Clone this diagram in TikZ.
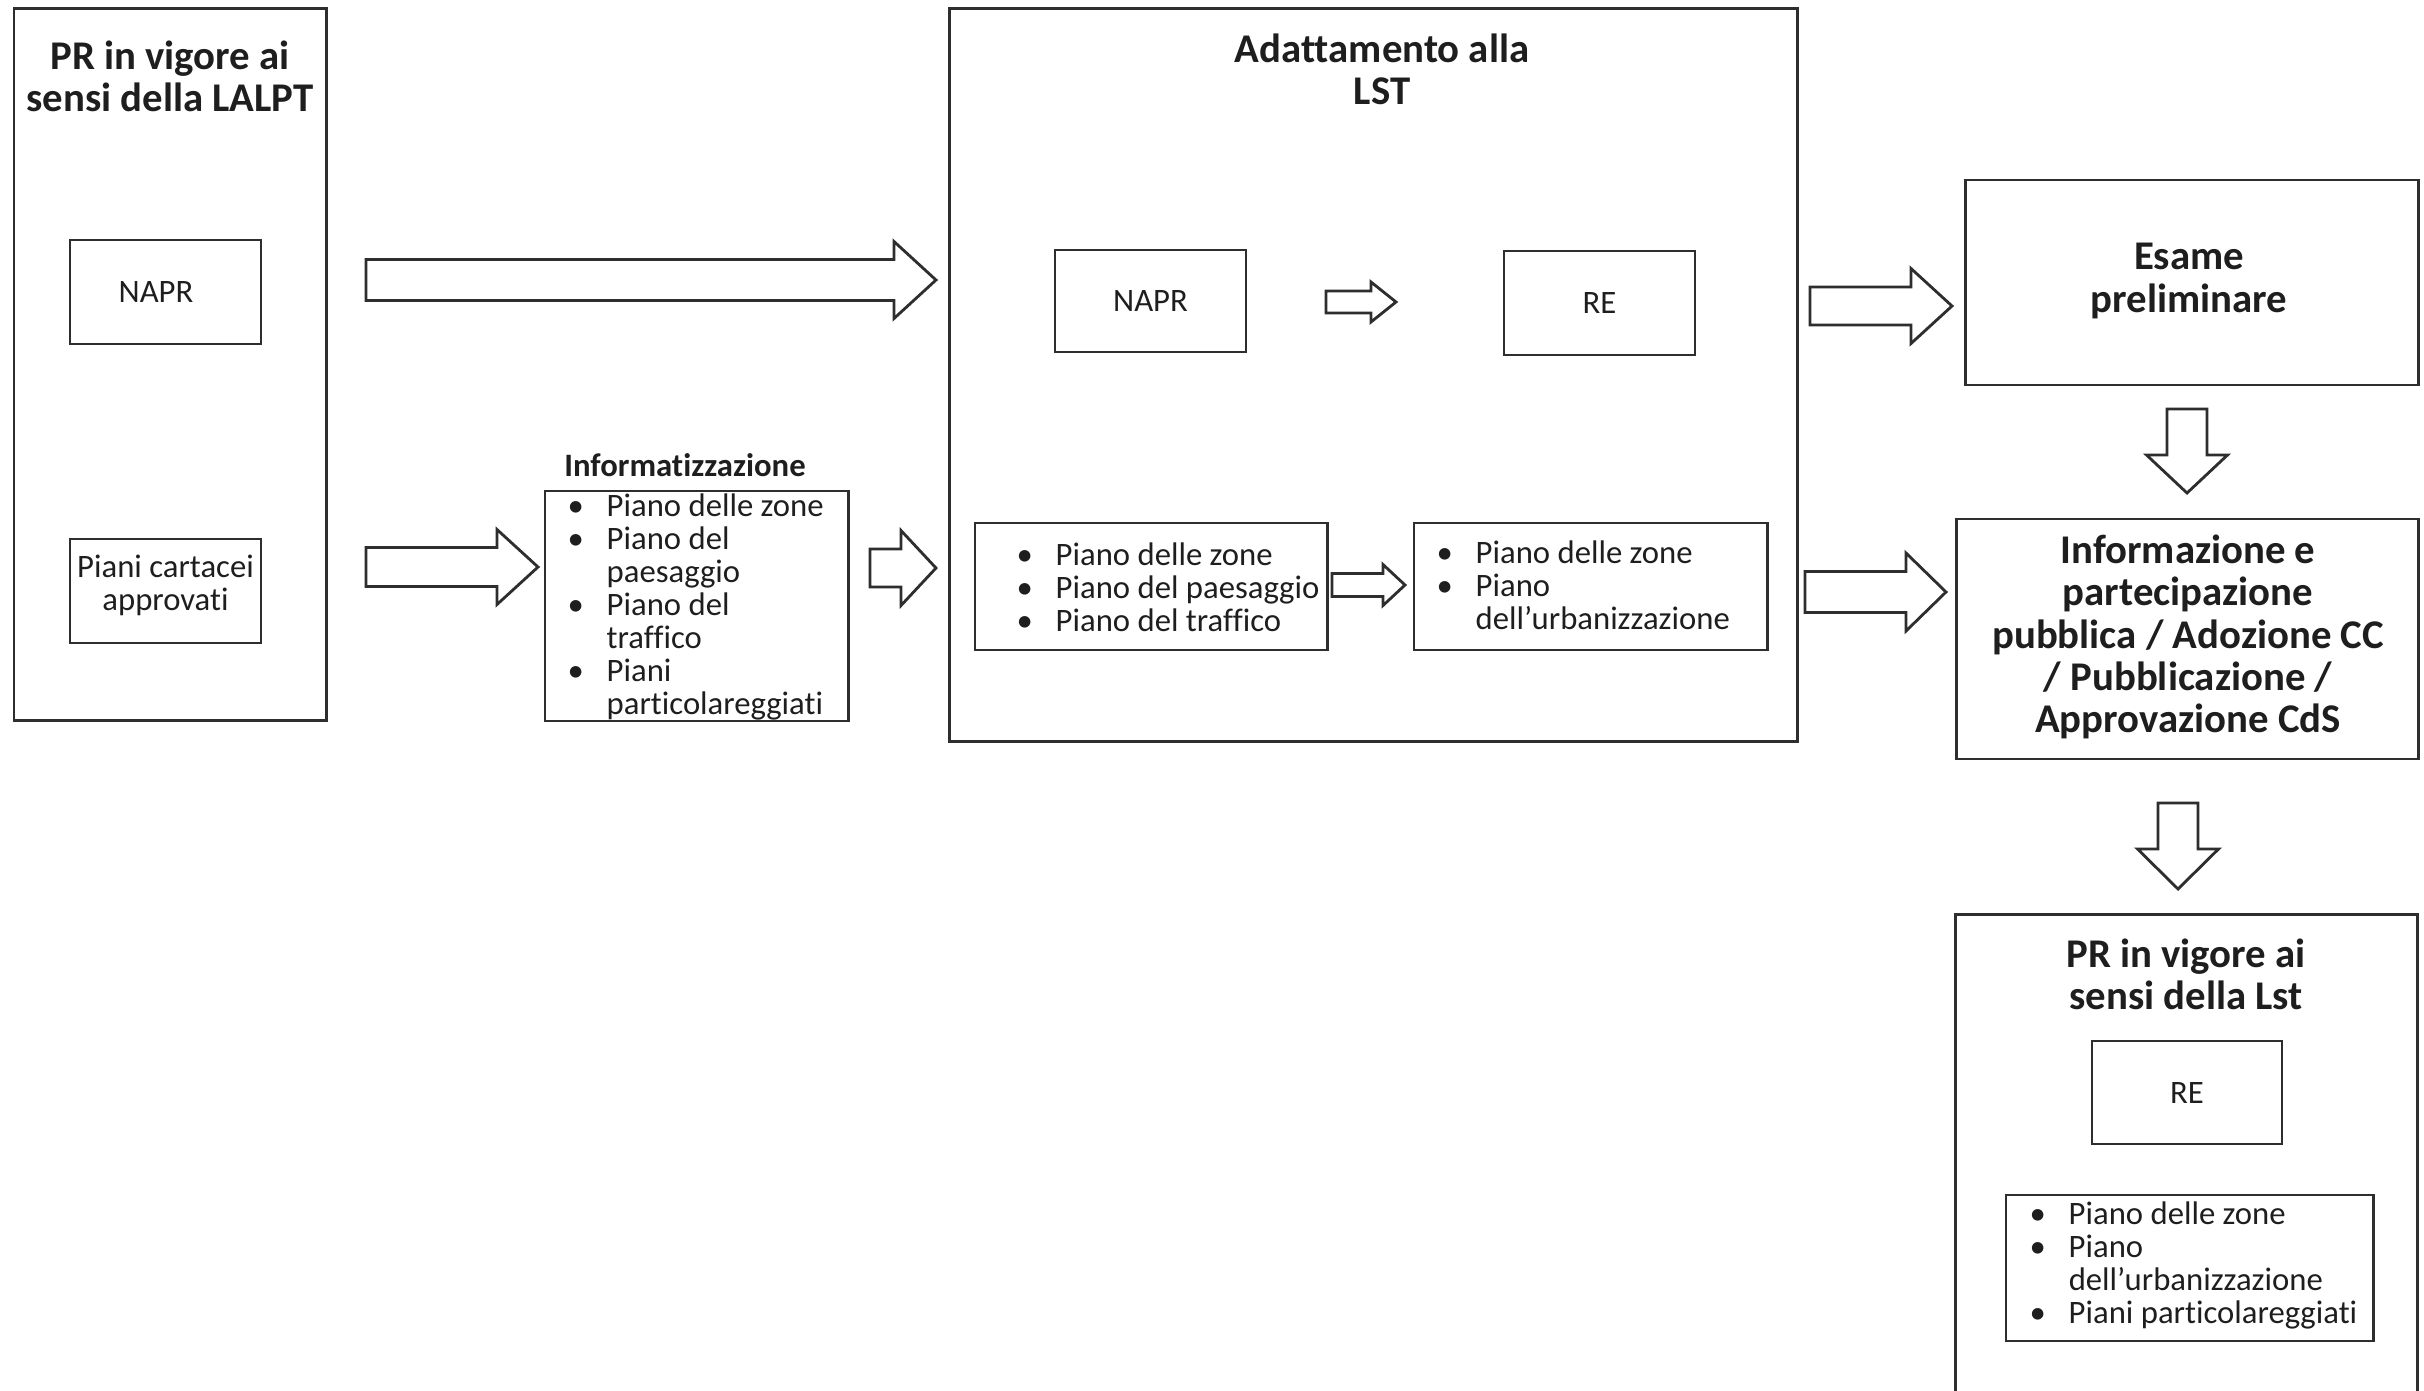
\documentclass[tikz,border=0pt]{standalone}
\usepackage{fontspec}
\setmainfont{Carlito}[Ligatures=NoCommon]
\definecolor{linec}{HTML}{2E2E2E}
\definecolor{txtc}{HTML}{1E1E1E}
\newcommand{\blkR}[6]{\draw[barrow] (#1,{#4-#5}) -- (#2,{#4-#5}) -- (#2,{#4-#6}) -- (#3,#4) -- (#2,{#4+#6}) -- (#2,{#4+#5}) -- (#1,{#4+#5}) -- cycle;}
\newcommand{\blkD}[6]{\draw[barrow] ({#4-#5},#1) -- ({#4+#5},#1) -- ({#4+#5},#2) -- ({#4+#6},#2) -- (#4,#3) -- ({#4-#6},#2) -- ({#4-#5},#2) -- cycle;}
\newcommand{\bul}{\makebox[0.39cm][l]{\textbullet}}
\newcommand{\ind}{\hspace*{0.39cm}}
\tikzset{
 box/.style={draw=linec, line width=0.8pt, inner sep=0pt},
 ttl/.style={font=\fontsize{11.6}{12}\selectfont\bfseries, text=txtc, align=center, inner sep=0pt},
 txt/.style={font=\fontsize{9.3}{9.4}\selectfont, text=txtc, align=center, inner sep=0pt},
 lst/.style={font=\fontsize{9.3}{9.4}\selectfont, text=txtc, align=left, inner sep=0pt, anchor=north west},
 barrow/.style={draw=linec, line width=0.8pt, fill=white, line join=miter},
}
\begin{document}
\begin{tikzpicture}[x=0.01cm, y=-0.01cm]
\useasboundingbox (0,0) rectangle (2424,1390);
\clip (0,0) rectangle (2424,1390);
% left column
\node[box, minimum width=3.12cm, minimum height=7.11cm] (L1) at (170,364.5) {};
\node[ttl] (L1t) at (170,76) {PR in vigore ai\\sensi della LALPT};
\node[box, minimum width=1.91cm, minimum height=1.04cm] (napr1) at (165.5,292) {};
\node[txt] (napr1t) at (156,292) {NAPR};
\node[box, minimum width=1.91cm, minimum height=1.04cm] (piani) at (165.5,591) {};
\node[txt] (pianit) at (165.5,585) {Piani cartacei\\approvati};
% informatizzazione
\node[ttl, font=\fontsize{9.3}{9.4}\selectfont\bfseries] (infot) at (685,465) {Informatizzazione};
\node[box, minimum width=3.03cm, minimum height=2.30cm] (infol) at (696.5,606) {};
\node[lst] (infolt) at (567,493) {\bul Piano delle zone\\\bul Piano del\\\ind paesaggio\\\bul Piano del\\\ind traffico\\\bul Piani\\\ind particolareggiati};
% adattamento
\node[box, minimum width=8.47cm, minimum height=7.32cm] (adat) at (1373.5,375) {};
\node[ttl] (adatt) at (1382,69) {Adattamento alla\\LST};
\node[box, minimum width=1.91cm, minimum height=1.02cm] (napr2) at (1150.5,301) {};
\node[txt] (napr2t) at (1150.5,301) {NAPR};
\node[box, minimum width=1.91cm, minimum height=1.04cm] (re1) at (1599.5,303) {};
\node[txt] (re1t) at (1599.5,303) {RE};
\node[box, minimum width=3.52cm, minimum height=1.27cm] (l1) at (1151,586.5) {};
\node[lst] (l1t) at (1016,542) {\bul Piano delle zone\\\bul Piano del paesaggio\\\bul Piano del traffico};
\node[box, minimum width=3.53cm, minimum height=1.27cm] (l2) at (1590.5,586.5) {};
\node[lst] (l2t) at (1436,540) {\bul Piano delle zone\\\bul Piano\\\ind dell’urbanizzazione};
% right column
\node[box, minimum width=4.52cm, minimum height=2.05cm] (esame) at (2192,282.5) {};
\node[ttl] (esamet) at (2189,281) {Esame\\preliminare};
\node[box, minimum width=4.61cm, minimum height=2.40cm] (info) at (2187.5,639) {};
\node[ttl] (infott) at (2188,637) {Informazione e\\partecipazione\\pubblica / Adozione CC\\/ Pubblicazione /\\Approvazione CdS};
\node[box, minimum width=4.61cm, minimum height=5.70cm] (fin) at (2186.5,1200) {};
\node[ttl] (fint) at (2186,974) {PR in vigore ai\\sensi della Lst};
\node[box, minimum width=1.90cm, minimum height=1.03cm] (re2) at (2187,1092.5) {};
\node[txt] (re2t) at (2187,1092.5) {RE};
\node[box, minimum width=3.67cm, minimum height=1.46cm] (l3) at (2189.5,1268) {};
\node[lst] (l3t) at (2029,1201) {\bul Piano delle zone\\\bul Piano\\\ind dell’urbanizzazione\\\bul Piani particolareggiati};
% block arrows
\blkR{366}{894}{936}{280}{20.5}{38.5}
\blkR{366}{497}{538}{567}{19.5}{37.5}
\blkR{870}{901}{936}{568}{19}{37.5}
\blkR{1326}{1371}{1396}{302}{11}{20}
\blkR{1332}{1383}{1405}{585}{11.5}{20.5}
\blkR{1810}{1911}{1952}{306}{19}{37.5}
\blkR{1805}{1906}{1946}{592}{20.5}{39}
\blkD{409}{455}{493}{2187}{20}{40.5}
\blkD{803}{849}{889}{2178}{20}{40.5}
\end{tikzpicture}
\end{document}
